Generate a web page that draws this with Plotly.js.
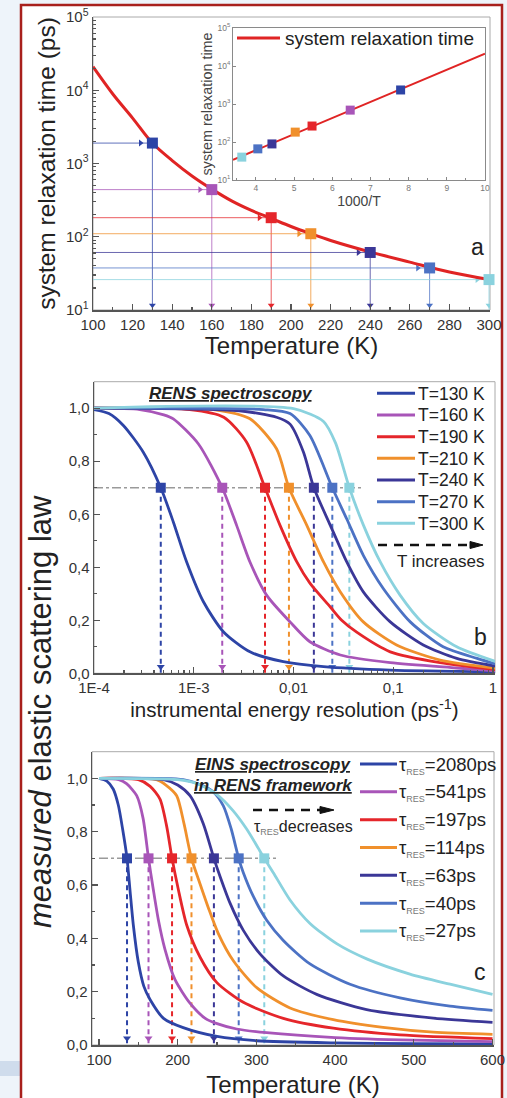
<!DOCTYPE html>
<html>
<head>
<meta charset="utf-8">
<script src="https://cdn.plot.ly/plotly-3.0.1.min.js"></script>
<style>html,body{margin:0;padding:0;background:#eef4fa;}#chart{width:507px;height:1098px;}</style>
</head>
<body>
<div id="chart"></div>
<script>
// ---------------- DATA ----------------
// Panel a: system relaxation time vs temperature
const curveT   = [100, 110, 120, 130, 140, 150, 160, 170, 180, 190, 200, 210, 220, 240, 260, 280, 300];
const curveTau = [21000, 8900, 4170, 1900, 1096, 676, 447, 309, 229, 178, 138, 110, 89, 62, 45, 33, 26];
const tempsA   = [130, 160, 190, 210, 240, 270, 300];
const tauA     = [1900, 440, 182, 110, 61, 37.5, 26];
// Panel a inset: Arrhenius plot
const insetLineX = [3.4, 10];
const insetLineY = [34, 21000];
const insetX = [7.79, 6.47, 5.47, 5.03, 4.42, 4.05, 3.63];
const insetY = [2340, 690, 263, 182, 89, 66, 40];

// Panel b: RENS elastic scattering law vs instrumental energy resolution (ps^-1)
const bNames = ['T=130 K', 'T=160 K', 'T=190 K', 'T=210 K', 'T=240 K', 'T=270 K', 'T=300 K'];
const b130x = [1.0e-4, 1.41e-4, 1.97e-4, 3.12e-4, 4.67e-4, 6.24e-4, 8.49e-4, 1.25e-3, 1.98e-3, 3.66e-3, 7.91e-3, 0.02, 0.0933, 1.05];
const b130y = [0.995, 0.98, 0.935, 0.834, 0.70, 0.571, 0.42, 0.27, 0.157, 0.081, 0.044, 0.025, 0.012, 0.005];
const b160x = [1.0e-4, 2.88e-4, 5.01e-4, 6.24e-4, 1.11e-3, 1.93e-3, 2.69e-3, 3.66e-3, 5.37e-3, 9.23e-3, 0.0146, 0.0295, 0.0933, 0.433, 1.05];
const b160y = [1.0, 0.995, 0.975, 0.96, 0.866, 0.70, 0.558, 0.42, 0.295, 0.194, 0.119, 0.069, 0.04, 0.02, 0.009];
const b190x = [1.0e-4, 9.12e-4, 2.0e-3, 3.39e-3, 5.18e-3, 7.33e-3, 0.0108, 0.0146, 0.0234, 0.0304, 0.043, 0.0933, 0.295, 1.05];
const b190y = [1.0, 0.995, 0.966, 0.872, 0.70, 0.558, 0.42, 0.34, 0.25, 0.2, 0.155, 0.081, 0.04, 0.014];
const b210x = [1.0e-4, 1.58e-3, 3.66e-3, 6.76e-3, 9.0e-3, 0.0136, 0.02, 0.0295, 0.0501, 0.108, 0.295, 1.05];
const b210y = [1.0, 0.995, 0.96, 0.847, 0.70, 0.558, 0.42, 0.307, 0.194, 0.107, 0.05, 0.02];
const b240x = [1.0e-4, 2.88e-3, 6.76e-3, 9.23e-3, 0.0126, 0.016, 0.0234, 0.0342, 0.0501, 0.0933, 0.2, 0.433, 1.05];
const b240y = [1.0, 0.99, 0.966, 0.94, 0.834, 0.70, 0.558, 0.42, 0.307, 0.194, 0.107, 0.056, 0.027];
const b270x = [1.0e-4, 5.01e-3, 9.23e-3, 0.0146, 0.0245, 0.0342, 0.0501, 0.0794, 0.148, 0.316, 0.692, 1.05];
const b270y = [1.0, 0.995, 0.98, 0.897, 0.70, 0.582, 0.445, 0.32, 0.194, 0.10, 0.056, 0.035];
const b300x = [1.0e-4, 0.01, 0.02, 0.0263, 0.0363, 0.0501, 0.0741, 0.117, 0.2, 0.433, 1.05];
const b300y = [1.0, 0.998, 0.95, 0.87, 0.70, 0.56, 0.42, 0.295, 0.188, 0.10, 0.045];
const bMarkX = [4.67e-4, 1.93e-3, 5.18e-3, 9.0e-3, 0.016, 0.0245, 0.0363];
const bMarkY = [0.7, 0.7, 0.7, 0.7, 0.7, 0.7, 0.7];

// Panel c: EINS in RENS framework, elastic scattering law vs temperature
const cNames = ['2080', '541', '197', '114', '63', '40', '27'];
const c2080x = [100, 110, 118, 124.5, 130, 135.6, 139.4, 143.6, 150, 157, 165, 182, 207, 250, 300, 400, 500, 600];
const c2080y = [1.0, 0.99, 0.96, 0.9, 0.81, 0.7, 0.58, 0.45, 0.31, 0.22, 0.17, 0.1, 0.065, 0.032, 0.016, 0.008, 0.005, 0.004];
const c541x = [100, 125, 135, 147.9, 156, 162.9, 169, 175.4, 183.9, 196.6, 215.6, 235, 250, 275, 313, 400, 500, 600];
const c541y = [1.0, 0.995, 0.98, 0.935, 0.85, 0.7, 0.583, 0.47, 0.358, 0.245, 0.157, 0.1, 0.08, 0.06, 0.046, 0.028, 0.018, 0.013];
const c197x = [100, 150, 165, 177.5, 186, 192.8, 200.8, 211.4, 228.3, 249.5, 283.4, 334.2, 397.7, 482.5, 600];
const c197y = [1.0, 0.995, 0.97, 0.922, 0.82, 0.7, 0.583, 0.45, 0.33, 0.235, 0.16, 0.1, 0.063, 0.038, 0.024];
const c114x = [100, 173, 185, 198.7, 208, 217.5, 228.3, 238.9, 251.6, 270.7, 300.4, 342.7, 397.7, 461, 524.8, 600];
const c114y = [1.0, 0.995, 0.975, 0.935, 0.83, 0.7, 0.605, 0.515, 0.418, 0.316, 0.215, 0.139, 0.095, 0.066, 0.048, 0.04];
const c63x = [100, 182, 200, 215.6, 232.5, 246, 253.7, 266.5, 283.4, 304.6, 334.2, 376.6, 440.1, 524.8, 600];
const c63y = [1.0, 0.995, 0.975, 0.935, 0.83, 0.7, 0.633, 0.532, 0.43, 0.342, 0.259, 0.19, 0.133, 0.101, 0.085];
const c40x = [100, 207, 230, 245, 258, 268, 277.5, 283.4, 296.1, 313.1, 334.2, 368.1, 419, 482.5, 546, 600];
const c40y = [1.0, 0.995, 0.975, 0.95, 0.897, 0.81, 0.7, 0.646, 0.557, 0.468, 0.392, 0.304, 0.228, 0.177, 0.146, 0.13];
const c27x = [100, 200, 225, 249.5, 270, 287.6, 300, 310, 321.5, 342.7, 368.1, 402, 440.1, 495.1, 546, 600];
const c27y = [1.0, 0.995, 0.98, 0.94, 0.88, 0.81, 0.75, 0.7, 0.646, 0.544, 0.456, 0.38, 0.323, 0.266, 0.228, 0.19];
const cMarkX = [135.6, 162.9, 192.8, 217.5, 246, 277.5, 310];
const cMarkY = [0.7, 0.7, 0.7, 0.7, 0.7, 0.7, 0.7];

const levelTicks = [0, 0.2, 0.4, 0.6, 0.8, 1.0];
const levelLabels = ['0,0', '0,2', '0,4', '0,6', '0,8', '1,0'];
const resTicks = [1e-4, 1e-3, 0.01, 0.1, 1];
const resLabels = ['1E-4', '1E-3', '0,01', '0,1', '1'];
const decTicks = [10, 100, 1000, 10000, 100000];
const decLabels = ['10<sup>1</sup>', '10<sup>2</sup>', '10<sup>3</sup>', '10<sup>4</sup>', '10<sup>5</sup>'];

// ---------------- STYLE ----------------
const W = 507, H = 1098;
const X = p => p / W;
const Y = p => 1 - p / H;
const FONT = '"Liberation Sans", Arial, sans-serif';
const colors = ['#2d44a6', '#a855b8', '#e5262b', '#f0902c', '#3b3797', '#4c72c4', '#8ad2de'];
const RED = '#e02424';
const INK = '#222';

const bX = [b130x, b160x, b190x, b210x, b240x, b270x, b300x];
const bY = [b130y, b160y, b190y, b210y, b240y, b270y, b300y];
const cX = [c2080x, c541x, c197x, c114x, c63x, c40x, c27x];
const cY = [c2080y, c541y, c197y, c114y, c63y, c40y, c27y];
const tauLabel = v => 'τ<sub><span style="font-size:9px;fill:#777">RES</span></sub>=' + v + 'ps';

const traces = [];

// ---- panel a guides ----
const aXmin = 100, aYmin = 10;
tempsA.forEach((t, i) => {
  traces.push({x: [aXmin, t], y: [tauA[i], tauA[i]], xaxis: 'x', yaxis: 'y', mode: 'lines',
    line: {color: colors[i], width: 1}, opacity: 0.75, showlegend: false, hoverinfo: 'skip'});
  traces.push({x: [t, t], y: [tauA[i], aYmin], xaxis: 'x', yaxis: 'y', mode: 'lines',
    line: {color: colors[i], width: 1}, opacity: 0.75, showlegend: false, hoverinfo: 'skip'});
});
traces.push({x: tempsA.map(t => t - 6), y: tauA, xaxis: 'x', yaxis: 'y', mode: 'markers',
  marker: {symbol: 'triangle-right', size: 6, color: colors}, showlegend: false, hoverinfo: 'skip'});
traces.push({x: tempsA, y: tempsA.map(() => aYmin * 1.16), xaxis: 'x', yaxis: 'y', mode: 'markers',
  marker: {symbol: 'triangle-down', size: 6, color: colors}, showlegend: false, hoverinfo: 'skip'});
traces.push({x: curveT, y: curveTau, xaxis: 'x', yaxis: 'y', mode: 'lines', name: 'system relaxation time',
  line: {color: RED, width: 3, shape: 'spline'}, showlegend: false});
traces.push({x: tempsA, y: tauA, xaxis: 'x', yaxis: 'y', mode: 'markers', cliponaxis: false,
  marker: {symbol: 'square', size: 11, color: colors}, showlegend: false});

// ---- inset ----
traces.push({x: insetLineX, y: insetLineY, xaxis: 'x2', yaxis: 'y2', mode: 'lines',
  line: {color: RED, width: 2}, showlegend: false});
traces.push({x: insetX, y: insetY, xaxis: 'x2', yaxis: 'y2', mode: 'markers',
  marker: {symbol: 'square', size: 9, color: colors}, showlegend: false});

// ---- panel b ----
const bXmin = 1e-4;
traces.push({x: [bXmin, Math.max(...bMarkX) * 1.33], y: [bMarkY[0], bMarkY[0]], xaxis: 'x3', yaxis: 'y3', mode: 'lines',
  line: {color: '#9a9a9a', width: 1.5, dash: 'dashdot'}, showlegend: false, hoverinfo: 'skip'});
bMarkX.forEach((x, i) => {
  traces.push({x: [x, x], y: [bMarkY[i], 0], xaxis: 'x3', yaxis: 'y3', mode: 'lines',
    line: {color: colors[i], width: 2, dash: '5px,4px'}, showlegend: false, hoverinfo: 'skip'});
});
traces.push({x: bMarkX, y: bMarkX.map(() => 0.025), xaxis: 'x3', yaxis: 'y3', mode: 'markers',
  marker: {symbol: 'triangle-down', size: 7, color: colors}, showlegend: false, hoverinfo: 'skip'});
bX.forEach((xs, i) => {
  traces.push({x: xs, y: bY[i], xaxis: 'x3', yaxis: 'y3', mode: 'lines', name: bNames[i],
    line: {color: colors[i], width: 2.8, shape: 'spline', smoothing: 0.7}, showlegend: false});
});
traces.push({x: bMarkX, y: bMarkY, xaxis: 'x3', yaxis: 'y3', mode: 'markers', cliponaxis: false,
  marker: {symbol: 'square', size: 10, color: colors}, showlegend: false});

// ---- panel c ----
const cXmin = 100;
traces.push({x: [cXmin, Math.max(...cMarkX) + 16], y: [cMarkY[0], cMarkY[0]], xaxis: 'x4', yaxis: 'y4', mode: 'lines',
  line: {color: '#9a9a9a', width: 1.5, dash: 'dashdot'}, showlegend: false, hoverinfo: 'skip'});
cMarkX.forEach((x, i) => {
  traces.push({x: [x, x], y: [cMarkY[i], 0], xaxis: 'x4', yaxis: 'y4', mode: 'lines',
    line: {color: colors[i], width: 2, dash: '5px,4px'}, showlegend: false, hoverinfo: 'skip'});
});
traces.push({x: cMarkX, y: cMarkX.map(() => 0.025), xaxis: 'x4', yaxis: 'y4', mode: 'markers',
  marker: {symbol: 'triangle-down', size: 7, color: colors}, showlegend: false, hoverinfo: 'skip'});
cX.forEach((xs, i) => {
  traces.push({x: xs, y: cY[i], xaxis: 'x4', yaxis: 'y4', mode: 'lines', name: tauLabel(cNames[i]),
    line: {color: colors[i], width: 2.8, shape: 'spline', smoothing: 0.7}, showlegend: false});
});
traces.push({x: cMarkX, y: cMarkY, xaxis: 'x4', yaxis: 'y4', mode: 'markers', cliponaxis: false,
  marker: {symbol: 'square', size: 10, color: colors}, showlegend: false});

// ---------------- LAYOUT ----------------
const tickFont = {family: FONT, size: 15, color: '#333'};
const axBase = {showline: true, linecolor: '#555', linewidth: 1.5, ticks: 'inside', ticklen: 6,
  tickcolor: '#555', tickwidth: 1.2, showgrid: false, zeroline: false, tickfont: tickFont};

function frame(xr, yr, color) {
  return {type: 'rect', xref: xr + ' domain', yref: yr + ' domain', x0: 0, x1: 1, y0: 0, y1: 1,
    line: {color: color, width: 1}, fillcolor: 'rgba(0,0,0,0)', layer: 'below'};
}
function txt(text, xpx, ypx, size, anchor, extra) {
  return Object.assign({text: text, xref: 'paper', yref: 'paper', x: X(xpx), y: Y(ypx), showarrow: false,
    xanchor: anchor || 'center', yanchor: 'middle', font: {family: FONT, size: size, color: INK}}, extra || {});
}
function hline(x0, x1, ypx, color, width, dash) {
  return {type: 'line', xref: 'paper', yref: 'paper', x0: X(x0), x1: X(x1), y0: Y(ypx), y1: Y(ypx),
    line: {color: color, width: width, dash: dash || 'solid'}};
}

const shapes = [
  {type: 'rect', xref: 'paper', yref: 'paper', x0: X(0), x1: X(20), y0: Y(1076), y1: Y(1061),
    fillcolor: '#cfdcec', line: {width: 0}, layer: 'below'},
  {type: 'rect', xref: 'paper', yref: 'paper', x0: X(21), x1: X(502), y0: -0.01, y1: Y(5),
    fillcolor: '#ffffff', line: {color: '#a8201c', width: 2.5}, layer: 'below'},
  frame('x', 'y', '#aaaaaa'),
  frame('x3', 'y3', '#aaaaaa'),
  frame('x4', 'y4', '#aaaaaa'),
  {type: 'rect', xref: 'x2 domain', yref: 'y2 domain', x0: 0, x1: 1, y0: 0, y1: 1,
    fillcolor: '#ffffff', line: {width: 0}, layer: 'below'},
  // "T increases" dashed arrow
  hline(378, 473, 545, '#111', 2.5, '9px,7px'),
  {type: 'path', xref: 'paper', yref: 'paper',
    path: `M ${X(470)} ${Y(541.5)} L ${X(483)} ${Y(545)} L ${X(470)} ${Y(548.5)} Z`,
    fillcolor: '#111', line: {color: '#111', width: 1}},
  // "tau decreases" dashed arrow
  hline(253, 324, 810, '#111', 2.5, '9px,7px'),
  {type: 'path', xref: 'paper', yref: 'paper',
    path: `M ${X(320)} ${Y(806.5)} L ${X(334)} ${Y(810)} L ${X(320)} ${Y(813.5)} Z`,
    fillcolor: '#111', line: {color: '#111', width: 1}},
  // inset legend sample
  hline(237, 280, 38, RED, 3)
];

const annotations = [
  txt('system relaxation time', 283, 38.5, 19, 'left'),
  txt('a', 477, 247, 23),
  txt('b', 480, 637, 23),
  txt('c', 480, 972, 23),
  txt('<b><i><u>RENS spectroscopy</u></i></b>', 231, 393, 17),
  txt('T increases', 395, 561, 17, 'left'),
  txt('<b><i><u>EINS spectroscopy</u></i></b>', 273, 764, 17),
  txt('<b><i><u>in RENS framework</u></i></b>', 273, 785, 17),
  txt('τ<sub><span style="font-size:9px;fill:#777">RES</span></sub>decreases', 252, 827, 16, 'left'),
  txt('<i>measured</i> elastic scattering law', 40, 712, 31, 'center', {textangle: -90})
];

// panel b legend
const bRow0 = 393.3, bGap = 21.67;
bNames.forEach((n, i) => {
  const yy = bRow0 + i * bGap;
  shapes.push(hline(377, 415, yy, colors[i], 3));
  annotations.push(txt(n, 416, yy + 0.5, 17.5, 'left'));
});
// panel c legend
const cRow0 = 764, cGap = 27.83;
cNames.forEach((n, i) => {
  const yy = cRow0 + i * cGap;
  shapes.push(hline(360, 397, yy, colors[i], 3));
  annotations.push(txt(tauLabel(n), 397, yy + 1, 18.5, 'left'));
});

const layout = {
  width: W, height: H,
  margin: {l: 0, r: 0, t: 0, b: 0},
  paper_bgcolor: '#eef4fa',
  plot_bgcolor: 'rgba(0,0,0,0)',
  showlegend: false,
  font: {family: FONT, color: INK},
  xaxis: Object.assign({}, axBase, {domain: [X(93), X(490)], range: [100, 300.5], anchor: 'y',
    tick0: 100, dtick: 20, minor: {ticks: 'inside', ticklen: 3, dtick: 10, tickcolor: '#555'},
    title: {text: 'Temperature (K)', font: {family: FONT, size: 24, color: INK}, standoff: 3}}),
  yaxis: Object.assign({}, axBase, {domain: [Y(310), Y(17)], type: 'log', range: [1, 5], anchor: 'x',
    tickmode: 'array', tickvals: decTicks, ticktext: decLabels,
    minor: {ticks: 'inside', ticklen: 3, dtick: 'D1', tickcolor: '#555'},
    title: {text: 'system relaxation time (ps)', font: {family: FONT, size: 24.5, color: INK}, standoff: 3}}),
  xaxis2: {domain: [X(233), X(485)], range: [3.4, 10], anchor: 'y2', showline: true, mirror: true,
    linecolor: '#8a8a8a', linewidth: 1, ticks: 'inside', ticklen: 3, tickcolor: '#888', showgrid: false, zeroline: false,
    tick0: 4, dtick: 1, minor: {ticks: 'inside', ticklen: 2, dtick: 0.5, tickcolor: '#888'},
    tickfont: {family: FONT, size: 8.5, color: '#777'},
    title: {text: '1000/T', font: {family: FONT, size: 14, color: '#444'}, standoff: 2}},
  yaxis2: {domain: [Y(180), Y(28)], type: 'log', range: [1, 5], anchor: 'x2', showline: true, mirror: true,
    linecolor: '#8a8a8a', linewidth: 1, ticks: 'inside', ticklen: 3, tickcolor: '#888', showgrid: false, zeroline: false,
    tickmode: 'array', tickvals: decTicks, ticktext: decLabels,
    tickfont: {family: FONT, size: 8.5, color: '#777'},
    title: {text: 'system relaxation time', font: {family: FONT, size: 14.4, color: '#444'}, standoff: 1}},
  xaxis3: Object.assign({}, axBase, {domain: [X(94), X(495)], type: 'log', range: [-4, 0.02], anchor: 'y3',
    tickmode: 'array', tickvals: resTicks, ticktext: resLabels,
    minor: {ticks: 'inside', ticklen: 3, dtick: 'D1', tickcolor: '#555'},
    title: {text: 'instrumental energy resolution (ps<sup>-1</sup>)', font: {family: FONT, size: 20.5, color: INK}, standoff: 6}}),
  yaxis3: Object.assign({}, axBase, {domain: [Y(673.3), Y(381.7)], range: [0, 1.1], anchor: 'x3',
    tickmode: 'array', tickvals: levelTicks, ticktext: levelLabels,
    minor: {ticks: 'inside', ticklen: 3, dtick: 0.1, tickcolor: '#555'}}),
  xaxis4: Object.assign({}, axBase, {domain: [X(92), X(494)], range: [91.1, 601.9], anchor: 'y4',
    tick0: 100, dtick: 100, minor: {ticks: 'inside', ticklen: 3, dtick: 50, tickcolor: '#555'},
    title: {text: 'Temperature (K)', font: {family: FONT, size: 24, color: INK}, standoff: 10}}),
  yaxis4: Object.assign({}, axBase, {domain: [Y(1045), Y(751.7)], range: [0, 1.1], anchor: 'x4',
    tickmode: 'array', tickvals: levelTicks, ticktext: levelLabels,
    minor: {ticks: 'inside', ticklen: 3, dtick: 0.1, tickcolor: '#555'}}),
  shapes: shapes,
  annotations: annotations
};

Plotly.newPlot('chart', traces, layout, {displayModeBar: false, staticPlot: true});
</script>
</body>
</html>
